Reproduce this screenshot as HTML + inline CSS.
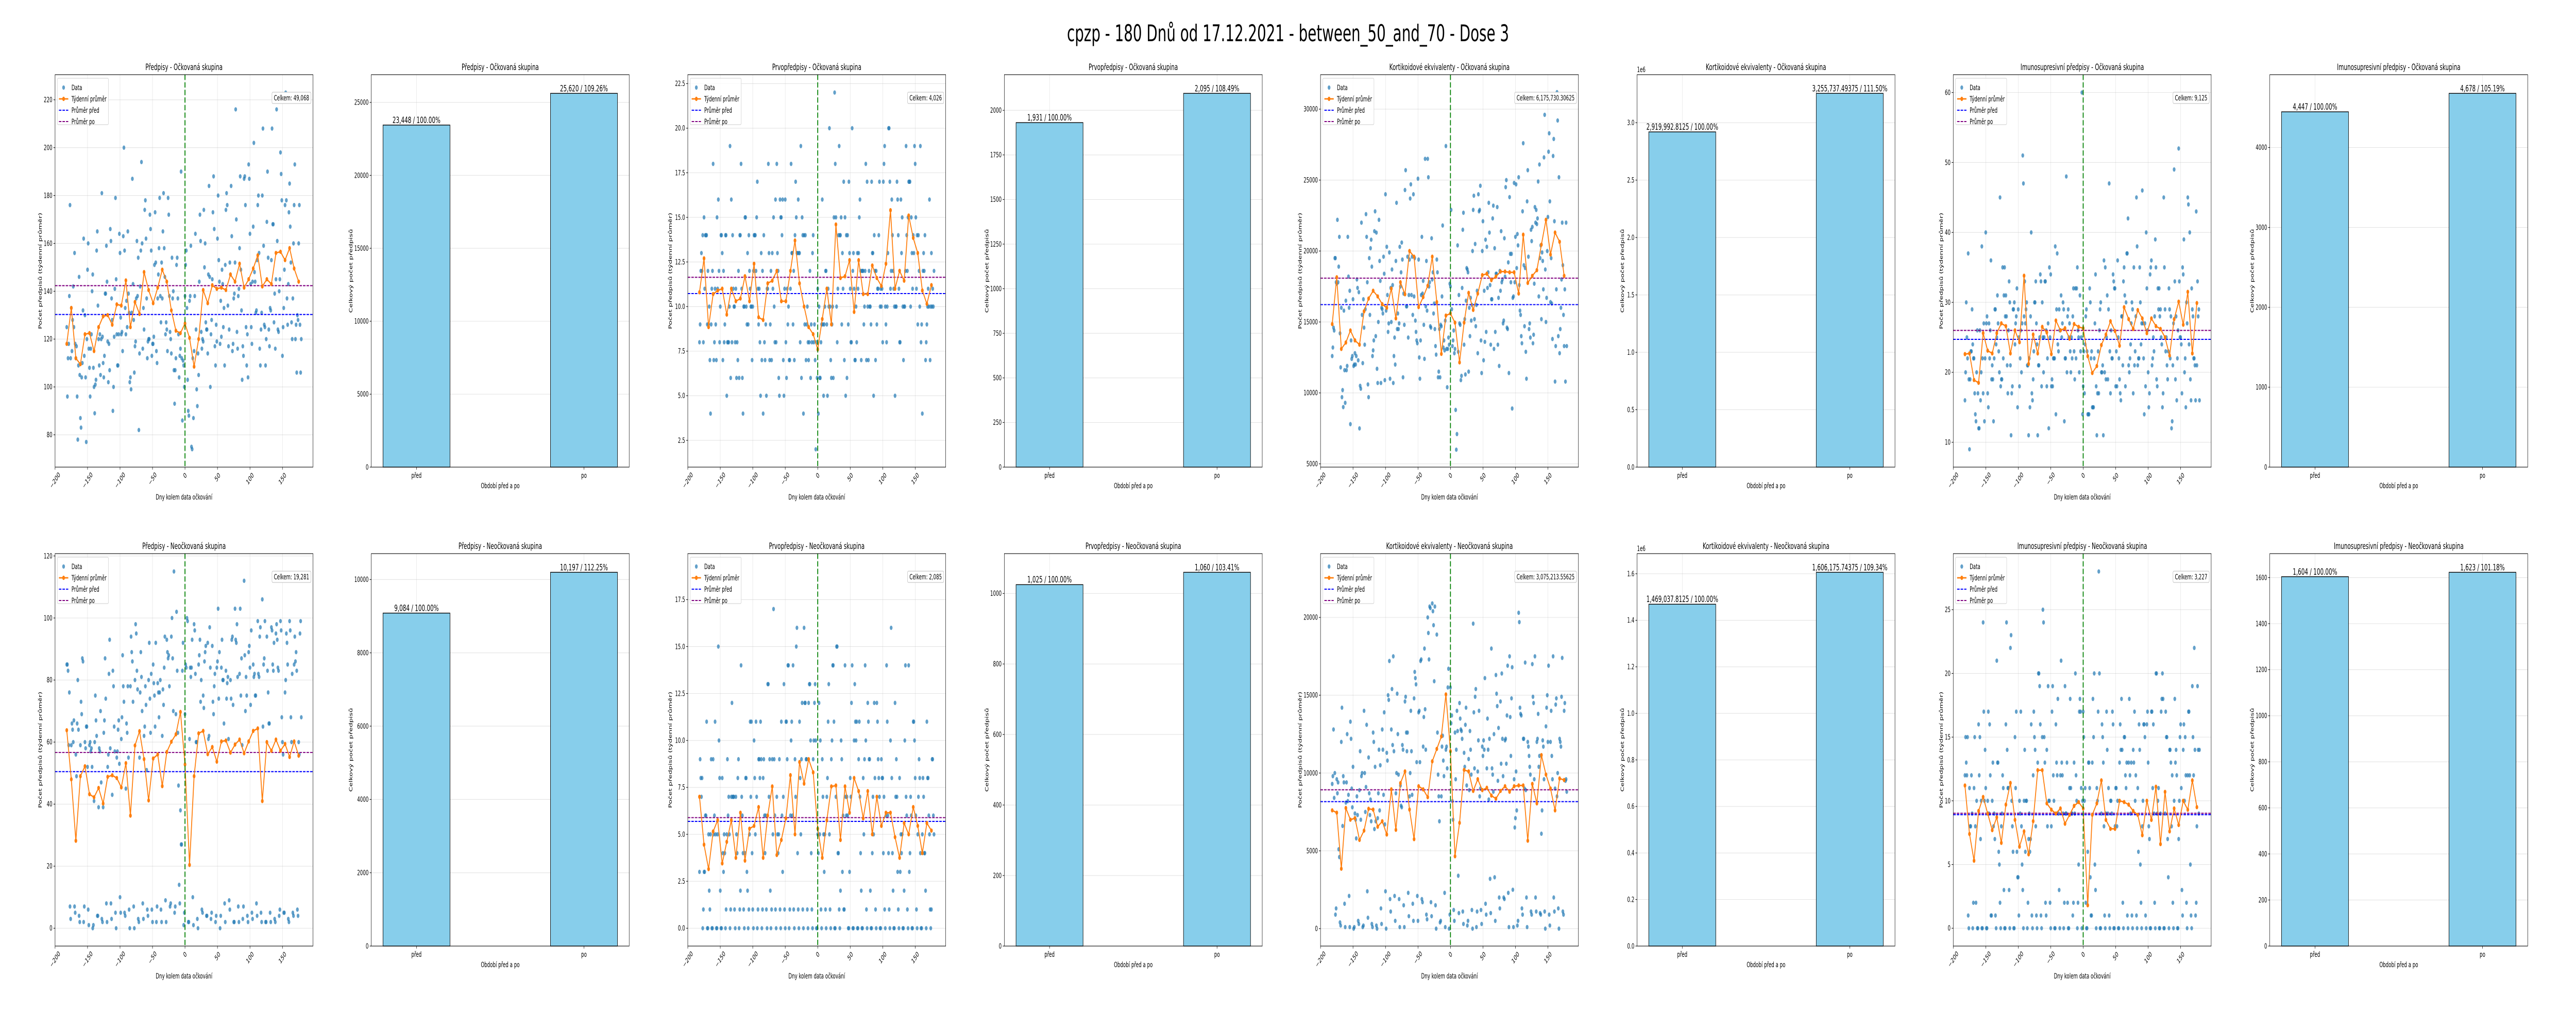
<!DOCTYPE html>
<html><head><meta charset="utf-8"><title>cpzp chart</title>
<style>
html,body{margin:0;padding:0;background:#fff;overflow:hidden;width:100vw;height:100vh;}
svg{display:block;width:100vw;height:100vh;font-family:"DejaVu Sans","Liberation Sans",sans-serif;}
</style></head>
<body>
<svg id="fig" viewBox="0 0 8000 2000" preserveAspectRatio="none" xmlns="http://www.w3.org/2000/svg">
<rect x="0" y="0" width="8000" height="2000" fill="#fff"/>
<text x="4000" y="80" text-anchor="middle" font-size="44.4" fill="#000">cpzp - 180 Dnů od 17.12.2021 - between_50_and_70 - Dose 3</text>
</svg>
<script>
// ---------- DATA ----------
const dayStart = -182;
const weekStep = 7;
const xTickValues = [-200,-150,-100,-50,0,50,100,150];
const xTickLabels = ["\u2212200","\u2212150","\u2212100","\u221250","0","50","100","150"];

// Row 1 – Očkovaná skupina
const r1p1Daily = [125,96,112,118,138,176,112,133,115,128,142,125,156,118,112,117,96,78,109,146,105,87,83,104,110,132,162,113,130,104,77,120,149,160,116,108,96,116,122,140,147,108,100,89,101,103,157,165,134,120,109,122,105,120,181,121,110,104,113,139,139,159,144,119,102,118,107,166,161,137,128,90,100,121,141,179,145,122,109,109,122,164,156,129,122,123,115,163,200,157,133,122,136,125,165,139,131,102,104,99,131,187,143,128,106,117,119,137,161,138,154,82,114,142,157,194,160,116,133,124,174,178,162,137,112,119,120,120,172,166,157,113,118,118,121,151,173,152,115,110,137,147,158,179,138,127,152,137,165,181,158,146,122,127,124,115,179,172,138,123,120,114,154,137,140,107,93,107,112,151,154,137,122,104,113,116,190,112,86,111,109,100,138,151,157,133,103,90,88,136,138,159,75,74,112,87,115,138,164,124,99,92,114,105,144,172,161,123,116,120,119,174,150,160,127,124,124,114,147,184,146,100,122,128,145,173,188,166,117,109,126,119,162,180,153,144,118,136,121,149,143,125,133,109,151,174,181,176,134,117,124,152,147,184,163,115,118,137,139,152,216,170,123,116,138,141,158,188,149,132,103,117,113,187,188,176,125,109,122,104,193,187,164,143,125,118,144,167,202,148,144,131,132,153,176,180,156,116,109,124,131,180,208,159,126,125,109,120,169,190,154,124,117,133,132,153,208,168,168,127,139,116,145,216,161,124,123,140,145,198,189,178,113,125,133,149,176,223,178,137,126,143,173,185,167,152,127,120,137,160,176,193,120,126,106,130,128,160,176,126,106,120];
const r1p1Weekly = [118,133,112,109.5,122,122.5,115,125,129.5,130,126,134.5,134,144.5,125,135.5,130.5,148,140.5,135,141.5,149,144,132,123.5,122.5,126.5,120.5,108.5,120,140.5,135,142.5,141,141.5,140.5,147,144,151.5,141.5,145,149.5,155,142,145,143,156,156.5,153,158,149.5,144];
const r1p1Means = [130.27,142.33];
const r1p1YTicks = [80,100,120,140,160,180,200,220];

const r1p3Daily = [8,9,12,13,12,14,8,15,11,14,14,14,9,12,9,10,7,4,9,11,12,18,7,8,11,9,7,15,11,16,12,8,10,14,14,13,7,12,8,9,14,14,5,8,8,8,10,19,6,16,8,14,11,10,10,8,11,6,8,7,12,6,14,14,18,11,6,4,10,10,15,15,10,9,13,9,14,12,11,10,10,7,10,12,14,14,14,12,15,17,11,9,11,8,5,13,7,12,4,14,8,7,9,5,11,11,18,13,7,9,12,7,13,11,15,10,8,16,8,18,13,12,6,5,16,15,15,14,16,7,5,11,16,8,6,11,9,10,7,7,11,18,13,13,9,12,7,14,17,15,13,13,16,13,13,8,19,6,15,14,4,14,9,14,7,9,10,8,7,8,12,6,9,8,13,14,8,9,7,2,8,6,11,4,10,6,6,8,9,16,9,5,9,10,12,12,9,5,11,10,20,10,7,6,9,10,6,15,22,18,15,10,8,11,14,19,14,14,15,9,13,11,17,7,15,5,14,6,14,9,17,13,11,8,8,20,12,13,11,7,7,10,8,13,11,13,15,16,12,7,12,12,12,9,10,12,18,7,17,10,7,12,10,10,9,17,13,13,5,14,12,7,12,9,11,11,14,17,10,11,10,11,8,17,18,19,10,9,8,10,13,20,20,17,11,12,16,14,12,11,10,5,10,10,17,16,14,11,8,8,16,13,15,10,7,10,10,12,19,14,12,15,17,17,17,10,15,13,11,14,13,19,18,15,11,14,9,14,12,10,19,8,9,4,12,13,12,14,7,8,9,10,11,10,16,7,10,13,10,11,10,12];
const r1p3Weekly = [10.8,12.7,8.85,10.7,10.9,11,9.55,11,10.3,10.45,11.7,10.3,12.4,9.4,9.25,11.3,11.45,12,10.3,10.3,12,13.7,11.3,10,8.85,8.45,7.6,9.3,11,9,14.6,11.6,11.7,12.6,9.7,12.6,10.7,10.7,12.3,11.6,11.15,12.4,15.4,11,12,11.45,15.1,13.85,13,10.9,10.15,11.2];
const r1p3Means = [10.73,11.64];
const r1p3YTicks = [2.5,5,7.5,10,12.5,15,17.5,20,22.5];

const r1p5Daily = [12600,13200,14600,14400,19500,19500,17800,17700,22200,17800,18900,21000,14200,11800,16000,9700,10200,9000,15800,11600,9300,16500,11600,11900,21000,18200,16000,17200,7800,13700,12400,12600,16600,11900,12000,12800,12000,12600,18000,17400,12300,17100,7500,10500,10300,22000,15500,12100,16600,14600,13400,15900,22600,21000,17800,10600,9700,19500,15500,20200,20800,18900,12600,13000,13700,21400,22800,14000,21300,11700,10700,15000,22200,19300,17900,10700,16000,15900,15600,19600,18400,10900,24000,15800,20300,16900,14300,14900,19900,11000,17400,15000,18700,17600,10700,12600,13900,12000,19300,23400,14500,15600,14500,14900,20300,17500,18500,20600,19400,11100,17000,14800,24300,25700,16100,16100,19600,13900,16900,19400,23700,24700,16900,19600,15500,24000,16800,19500,15100,14300,13700,13500,25100,19400,12500,11000,13700,16900,21000,17000,17900,14800,12400,26500,16100,19300,15800,26500,25200,17500,17800,14700,14600,20900,18000,18500,15600,16300,14500,13300,12700,19400,18500,11100,11500,14500,11100,14800,14700,16800,21800,13200,13700,13000,15100,27400,13100,10400,13100,13900,13400,17700,17500,22900,15900,13300,13700,14400,12800,13100,8800,6000,7100,20400,12900,16900,14900,14800,10900,11200,17400,21500,22700,13400,15200,11300,16500,18800,18700,18500,11500,16000,14000,16700,15100,16200,20000,22900,23900,15200,20500,14700,16200,17200,12800,24000,22800,22900,24600,13700,11400,20000,22100,12300,17200,13600,20800,14300,20300,17400,18500,23400,21300,17600,13400,16600,16600,22300,23200,13100,20200,14300,18400,18400,23100,13400,16700,11900,18600,17200,21400,17800,18000,14900,15100,20900,18200,24500,25000,14600,14500,19200,11400,23800,19800,17800,19800,8900,16700,16800,24800,17800,21000,24700,18800,21200,20400,25200,17600,15800,15500,14000,13500,22800,27600,19000,14700,18800,12900,11000,23500,25700,19600,14500,14900,13900,21500,20700,21700,13500,14100,17700,23100,22000,22900,21900,22300,24900,16800,26100,19500,20400,15200,19900,19300,17300,26600,29600,18700,15000,16700,20000,22400,27000,28300,23500,16400,19500,16300,13800,26700,27900,22100,10800,13300,17300,31200,29200,14000,25200,12800,14500,16000,18000,22000,19000,15500,13300,17300,10800,22000,13300];
const r1p5Weekly = [14850,18150,13100,13550,14400,13700,13400,15750,16650,17200,16800,16250,16000,17350,15250,17800,16950,20000,19600,16050,16750,17550,19600,16400,12750,15450,15600,14950,12150,14950,17050,15850,17000,18300,18400,17950,18200,18550,18550,18500,18500,17000,21150,17750,18250,18650,20450,22200,19750,21300,20650,18250];
const r1p5Means = [16222.18,18087.43];
const r1p5YTicks = [5000,10000,15000,20000,25000,30000];

const r1p7Daily = [16,20,30,25,22,37,19,9,19,23,23,29,24,22,22,17,14,13,20,26,17,12,12,26,16,20,38,22,17,27,13,22,40,27,28,17,15,27,22,26,36,19,21,19,13,22,29,29,24,25,31,27,23,20,45,18,19,19,35,22,31,35,28,31,28,21,17,26,33,30,21,11,17,18,29,29,30,24,27,28,32,15,29,25,18,22,26,20,27,51,47,28,33,27,29,30,21,21,11,22,15,28,40,17,16,19,23,30,30,33,27,24,11,21,21,25,34,33,18,30,25,20,25,33,33,26,18,22,27,12,35,25,34,18,19,18,22,22,22,38,14,29,37,24,23,29,26,26,31,25,27,30,29,13,22,22,48,20,28,29,25,27,23,20,25,22,28,32,23,19,32,22,32,35,26,25,20,31,23,25,60,14,18,23,17,24,28,29,23,14,14,14,32,30,22,23,15,15,15,22,27,34,18,11,17,23,17,26,29,30,20,20,21,11,36,20,35,19,25,31,19,29,47,23,17,26,22,22,34,33,32,32,18,23,18,36,25,22,19,17,16,28,28,21,33,35,31,18,30,37,37,42,21,20,22,24,27,30,29,17,35,21,23,28,45,38,21,22,22,35,30,24,27,46,27,22,14,27,18,40,32,26,20,15,17,34,35,36,21,22,25,23,28,39,35,19,18,32,29,32,28,29,25,24,15,17,45,35,29,23,25,21,19,23,32,29,22,28,12,13,21,27,49,33,19,28,16,22,26,52,33,25,25,24,17,35,34,39,20,22,15,30,27,45,44,24,40,19,16,32,29,28,22,22,21,16,43,21,33,28,29,16];
const r1p7Weekly = [22.6,22.7,18.9,18.5,25.6,23.1,22.7,25.6,27,26.6,22.7,26,24.3,33.8,21.2,25.4,22.7,26.5,25.7,22.6,27.4,26,26.3,24.8,26.9,26.5,26.3,22.3,19.9,20.9,23.9,25.4,27.3,25.9,23.8,29.3,27.6,26.2,28.9,27.7,25.6,27.7,26.6,26.2,25,22.4,27.6,30.1,26.8,31.5,22.7,29.9];
const r1p7Means = [24.71,25.99];
const r1p7YTicks = [10,20,30,40,50,60];

// Row 2 – Neočkovaná skupina
const r2p1Daily = [85,85,83,59,76,7,3,59,66,64,60,67,7,5,56,49,66,80,64,4,2,59,73,69,87,86,2,7,60,58,65,65,52,6,1,59,60,57,58,52,0,1,41,60,75,67,62,4,4,39,58,57,70,47,3,2,39,63,67,87,74,8,2,52,56,82,93,58,8,3,43,83,78,65,57,5,0,55,57,64,67,53,10,5,61,68,88,78,73,5,4,45,66,63,78,55,6,0,78,94,89,86,73,7,0,80,98,95,83,77,3,2,55,76,89,81,70,8,3,62,65,78,72,51,6,4,80,92,74,63,82,6,2,85,79,75,65,92,2,7,79,76,68,76,80,6,2,62,77,72,84,94,9,2,93,89,87,88,78,7,8,94,100,87,70,115,5,7,69,102,83,63,46,14,8,38,27,27,83,92,1,5,69,85,84,100,99,2,2,61,84,81,84,93,10,1,98,96,82,60,60,3,0,85,88,93,73,80,6,5,75,71,86,89,91,4,4,92,61,62,97,84,3,5,91,73,69,78,82,2,4,84,86,103,74,89,0,4,84,93,80,80,66,8,2,83,74,79,81,61,9,6,80,74,93,94,72,2,2,103,93,92,98,81,7,2,82,103,75,87,59,3,7,112,88,70,81,75,4,2,89,91,84,72,96,5,3,85,81,82,75,75,8,4,99,82,81,94,97,5,2,106,65,85,87,99,2,2,94,83,76,66,66,5,2,97,96,85,83,92,3,2,95,98,93,84,83,4,6,99,96,68,60,56,5,5,76,80,95,92,85,3,2,99,96,68,60,82,5,4,85,94,86,89,83,6,4,60,56,95,99,68];
const r2p1Weekly = [63.8,48,28.2,49,52.2,43.2,42.2,45.2,40.2,48.8,49.3,48.4,45.4,53.2,36.3,58.9,63.5,54.5,41.2,54.7,56,45.8,56.8,60.1,62.5,69.7,52.8,20.4,49,62.8,63.6,56.1,58.4,53.7,60.2,60.5,56.6,59.2,60.8,56.4,60.2,63.6,64.4,41,60,57.2,60.8,57.2,59.4,55.2,60.2,55.6];
const r2p1Means = [50.47,56.65];
const r2p1YTicks = [0,20,40,60,80,100,120];

const r2p3Daily = [3,9,8,7,8,0,1,3,3,6,6,11,0,0,5,2,1,5,9,0,0,9,5,6,11,5,0,0,5,15,10,8,2,0,0,8,4,3,5,4,0,1,5,9,6,7,5,0,1,7,12,7,7,7,1,0,7,5,4,8,9,0,1,2,14,7,6,4,1,0,4,8,8,3,2,0,1,5,11,7,11,4,1,0,10,8,5,11,7,0,1,9,9,8,11,9,0,1,8,9,6,4,6,1,0,13,13,7,9,2,0,1,9,5,17,9,6,1,0,7,5,4,5,9,1,0,11,6,3,7,13,1,0,11,11,9,14,14,0,1,6,10,11,6,14,1,0,9,7,15,16,4,1,0,11,8,5,9,12,1,0,16,12,12,9,9,1,0,12,13,13,10,4,1,0,9,10,12,13,10,0,0,5,4,12,5,10,1,0,9,7,5,3,5,1,0,7,8,11,13,5,1,0,9,10,14,14,11,0,0,7,15,15,4,4,1,0,2,10,9,3,6,1,1,14,7,6,7,6,0,0,3,8,7,12,14,0,0,10,13,11,10,11,0,0,9,11,7,4,2,0,0,8,5,9,14,10,1,0,12,11,9,9,2,0,0,4,7,5,12,8,1,0,12,11,9,8,7,0,0,9,8,8,4,7,1,0,6,14,11,6,4,1,0,10,16,8,4,2,0,0,12,7,9,7,3,1,0,8,3,5,4,5,0,0,2,10,14,7,6,1,0,14,3,4,7,6,0,0,11,11,10,8,6,1,0,5,7,9,8,4,0,0,5,8,7,4,4,2,0,11,8,8,6,5,1,0,1,9,9,6,5];
const r2p3Weekly = [7,4.45,3.15,5.15,5.75,3.45,4.6,5.75,3.75,6.15,3.6,5.3,5.45,6.45,3.75,6,7.55,3.9,4.7,5.85,8.15,5,8.85,7.7,9,8.3,5.3,3.75,5.75,7.55,7.6,4.7,7.55,6.15,8,7.3,5.85,7.3,5,7,5.45,6.15,6.15,4.85,3.75,5.6,5,6.45,5.45,4,5.6,5.2];
const r2p3Means = [5.69,5.89];
const r2p3YTicks = [0,2.5,5,7.5,10,12.5,15,17.5];

const r2p5Daily = [9300,9800,12800,8400,10000,900,1300,9600,8700,9400,5100,4600,400,200,12000,14200,6600,9800,9400,1600,100,8100,9400,12500,8200,8600,2100,100,13300,12200,9000,7800,10400,0,100,7400,7000,5800,8500,7300,500,300,8900,11400,7000,9800,10000,100,200,14000,10000,7500,9100,13100,2400,700,11000,8700,7300,8300,6900,300,100,12600,12000,6400,10400,6900,200,0,7100,8700,11500,7600,10500,1300,300,12800,11500,8600,13900,6700,2400,0,11300,10800,15000,14700,17200,1900,1100,12800,15400,11800,17500,11400,2100,500,8700,10000,15100,12500,9900,1900,100,9200,7900,7800,11800,11500,1500,100,14600,14900,12600,11400,12600,2300,800,8500,10000,14000,11400,8600,1600,500,14800,16500,16100,15700,10700,2100,500,13900,14000,10700,17200,17300,1900,1700,11700,13600,18000,14100,11500,900,600,20000,19000,17300,20700,20600,1700,800,20900,20400,19500,15900,20700,1500,0,18900,12600,9900,8500,6900,400,500,8500,11700,12400,10800,9800,2300,100,11500,11700,10300,15500,16700,0,900,15500,13200,13700,8200,7000,1200,500,12600,9600,11500,14000,12700,3400,1000,14500,13500,12800,12700,12200,1100,300,11300,10400,13100,14200,9200,200,500,10900,8900,12700,11500,9900,1200,0,19600,13900,10300,14900,15400,100,1100,10100,12100,14000,8500,9000,1200,300,11700,11100,12100,11500,16100,1600,900,10300,13500,11500,8300,12200,3200,1000,18000,10300,9900,8800,12500,3300,500,16300,15100,14300,9500,12900,2000,1300,14600,10600,16400,12200,9800,2000,1900,12100,12200,10600,13700,16900,2300,100,17500,13600,11100,14800,16800,2500,100,9600,6500,7100,10100,7600,200,500,20300,19700,14200,13800,13700,1300,900,12200,12200,9000,17100,8900,2000,100,12000,11700,11100,10400,9900,1100,900,17000,14900,14500,9600,17500,2000,1100,12000,12200,13800,10400,11100,1000,900,6100,7600,12100,11700,9600,1100,0,13000,14200,15000,12000,16900,900,200,12000,14000,11100,9600,17500,2000,1100,9000,14400,14800,8500,10000,1300,0,12200,12000,11700,14900,17400,1100,900,14000,14500,9500,9600,8800];
const r2p5Weekly = [7600,7450,3850,7750,7000,7100,5700,6300,7700,7650,6550,6900,6050,8950,6350,9350,10100,7650,5750,9150,8950,8450,10750,11550,12350,15050,11400,4650,6800,10200,10100,8850,9600,8900,9050,8550,8350,8850,9150,8800,9150,9200,9200,5650,9300,8050,11150,9900,9000,7600,9650,9550];
const r2p5Means = [8161.32,8923.20];
const r2p5YTicks = [0,5000,10000,15000,20000];

const r2p7Daily = [12,15,13,12,15,1,0,11,8,8,12,9,0,2,11,15,8,2,10,0,0,16,12,15,7,10,0,0,24,17,10,14,11,0,0,10,17,9,16,12,1,1,10,13,8,9,7,1,0,21,13,13,6,5,2,0,8,9,12,11,3,0,0,16,24,14,11,11,3,0,22,23,10,8,6,0,0,15,11,17,6,4,4,1,10,9,17,8,5,3,0,10,14,6,10,10,0,2,7,9,6,7,16,1,0,12,17,15,14,8,1,0,13,20,20,19,16,1,0,15,25,24,15,13,2,1,14,8,19,10,10,2,0,8,17,19,12,10,0,0,16,13,12,18,9,3,0,12,21,13,12,9,0,2,19,9,9,13,2,0,0,11,18,11,9,9,1,2,13,9,20,12,10,0,2,5,17,18,17,11,0,10,17,15,10,11,2,0,0,6,13,13,11,4,1,1,13,18,15,20,5,3,0,11,10,17,28,20,0,0,9,16,15,13,8,1,0,9,17,14,9,11,1,0,10,10,9,17,16,0,0,8,11,11,8,10,0,0,13,16,14,18,14,2,0,15,15,12,11,13,1,0,13,18,12,9,13,1,0,14,13,17,10,12,1,0,11,6,16,14,5,2,0,8,10,16,16,15,1,0,16,17,13,8,7,0,0,17,17,11,16,9,2,0,20,20,9,10,11,0,0,9,17,18,20,18,0,0,9,17,15,15,7,4,0,14,14,13,8,12,2,0,10,18,13,14,12,0,0,7,10,15,16,11,3,1,14,16,10,15,12,2,0,12,17,17,12,5,1,0,19,15,12,22,14,1,2,8,19,14,9,14];
const r2p7Weekly = [11.2,7.4,5.3,9.2,10.3,9,7.7,8.7,6.7,9.7,11.4,8.5,6.4,7.6,5.8,8.4,12.4,12.4,9.8,9.3,9,9.4,8.2,8.9,9.6,9.9,9.4,1.8,8.9,9.8,11.6,8.5,7.8,7.8,10,9.9,9.7,9.2,8.9,7.3,10,8.5,11.1,6.6,10.7,7.6,9.4,8.1,10,9.3,11.6,9.5];
const r2p7Means = [8.91,9.02];
const r2p7YTicks = [0,5,10,15,20,25];

// Bar totals (před, po)
const barCategories = ["před","po"];
const r1b1Values = [23448,25620];
const r1b2Values = [1931,2095];
const r1b3Values = [2919992.8125,3255737.49375];
const r1b4Values = [4447,4678];
const r2b1Values = [9084,10197];
const r2b2Values = [1025,1060];
const r2b3Values = [1469037.8125,1606175.74375];
const r2b4Values = [1604,1623];
const r1b1Ticks = [0,5000,10000,15000,20000,25000];
const r1b2Ticks = [0,250,500,750,1000,1250,1500,1750,2000];
const r1b3Ticks = [0,500000,1000000,1500000,2000000,2500000,3000000];
const r1b4Ticks = [0,1000,2000,3000,4000];
const r2b1Ticks = [0,2000,4000,6000,8000,10000];
const r2b2Ticks = [0,200,400,600,800,1000];
const r2b3Ticks = [0,200000,400000,600000,800000,1000000,1200000,1400000,1600000];
const r2b4Ticks = [0,200,400,600,800,1000,1200,1400,1600];

// ---------- RENDER ----------
const NS = 'http://www.w3.org/2000/svg';
const svg = document.getElementById('fig');
const AW = 801, AH = 762;
const rowTops = [145, 1075];
const scatterLefts = [171, 2136, 4101, 6066];
const barLefts = [1153, 3119, 5084, 7049];
const FONT = 13.9;

function mk(tag, attrs, parent) {
  const e = document.createElementNS(NS, tag);
  for (const k in attrs) e.setAttribute(k, attrs[k]);
  (parent || svg).appendChild(e);
  return e;
}
function txt(parent, x, y, s, size, anchor, extra) {
  const t = mk('text', Object.assign({x: x, y: y, 'font-size': size, 'text-anchor': anchor || 'middle', fill: '#000'}, extra || {}), parent);
  t.textContent = s;
  return t;
}
function fmt(v) { return v.toLocaleString('en-US', {maximumFractionDigits: 5}); }
function estW(s, size) { return s.length * 0.62 * size; }

function drawScatter(cfg) {
  const g = mk('g', {}, svg);
  
  
  const L = cfg.left, T = cfg.top, R = L + AW, B = T + AH;
  const xlim = [-200, 197];
  const X = v => L + (v - xlim[0]) / (xlim[1] - xlim[0]) * AW;
  const Y = v => B - (v - cfg.ylim[0]) / (cfg.ylim[1] - cfg.ylim[0]) * AH;

  xTickValues.forEach(v => {
    const ln = mk('line', {x1: X(v), x2: X(v), y1: T, y2: B, stroke: '#b0b0b0', 'stroke-opacity': 0.35, 'stroke-width': 1.1}, g);
    
    
  });
  cfg.yticks.forEach(v => {
    const ln = mk('line', {x1: L, x2: R, y1: Y(v), y2: Y(v), stroke: '#b0b0b0', 'stroke-opacity': 0.35, 'stroke-width': 1.1}, g);
    
    
  });

  const pts = mk('g', {}, g);
  
  
  cfg.daily.forEach((v, i) => {
    const c = mk('circle', {cx: X(dayStart + i), cy: Y(v), r: 4.3, fill: '#1f77b4', 'fill-opacity': 0.7}, pts);
    
    
  });

  const mb = mk('line', {x1: L, x2: R, y1: Y(cfg.means[0]), y2: Y(cfg.means[0]), stroke: '#0000ff', 'stroke-width': 2.1, 'stroke-dasharray': '7.7,3.3'}, g);
  
  
  const ma = mk('line', {x1: L, x2: R, y1: Y(cfg.means[1]), y2: Y(cfg.means[1]), stroke: '#800080', 'stroke-width': 2.1, 'stroke-dasharray': '7.7,3.3'}, g);
  
  

  const wk = cfg.weekly.map((v, i) => X(dayStart + i * weekStep).toFixed(1) + ',' + Y(v).toFixed(1)).join(' ');
  const pl = mk('polyline', {points: wk, fill: 'none', stroke: '#ff7f0e', 'stroke-width': 2.8, 'stroke-linejoin': 'round'}, g);
  
  
  cfg.weekly.forEach((v, i) => {
    const c = mk('circle', {cx: X(dayStart + i * weekStep), cy: Y(v), r: 4.2, fill: '#ff7f0e'}, g);
    
    
  });

  const vl = mk('line', {x1: X(0), x2: X(0), y1: T, y2: B, stroke: '#008000', 'stroke-width': 2.8, 'stroke-dasharray': '10.3,4.4'}, g);
  
  

  const fr = mk('rect', {x: L, y: T, width: AW, height: AH, fill: 'none', stroke: '#000', 'stroke-width': 1.1}, g);
  
  

  xTickValues.forEach((v, i) => {
    mk('line', {x1: X(v), x2: X(v), y1: B, y2: B + 4.9, stroke: '#000', 'stroke-width': 1.1}, g);
    const s = xTickLabels[i];
    const w = estW(s, FONT);
    const cy = B + 8.4 + (w + 14) * 0.354;
    const t = txt(g, X(v), cy, s, FONT, 'middle', {'dominant-baseline': 'central', transform: 'rotate(-45 ' + X(v) + ' ' + cy + ')'});
    
    
  });
  let maxW = 0;
  cfg.yticks.forEach((v, i) => {
    mk('line', {x1: L - 4.9, x2: L, y1: Y(v), y2: Y(v), stroke: '#000', 'stroke-width': 1.1}, g);
    const s = cfg.ytickLabels[i];
    maxW = Math.max(maxW, estW(s, FONT));
    const t = txt(g, L - 8.4, Y(v), s, FONT, 'end', {'dominant-baseline': 'central'});
    
    
  });

  const tt = txt(g, L + AW / 2, T - 9, cfg.title, 16.7);
  
  
  const xl = txt(g, L + AW / 2, B + 63, 'Dny kolem data očkování', FONT);
  
  
  const yx = L - maxW - 20, yy = T + AH / 2;
  const yl = txt(g, yx, yy, 'Počet předpisů (týdenní průměr)', FONT, 'middle', {'dominant-baseline': 'central', transform: 'rotate(-90 ' + yx + ' ' + yy + ')'});
  
  

  const lg = mk('g', {}, g);
  
  
  const bx = L + 7, by = T + 7;
  mk('rect', {x: bx, y: by, width: 159, height: 90, rx: 3, fill: '#fff', 'fill-opacity': 0.8, stroke: '#cccccc', 'stroke-width': 1.1}, lg);
  const rows = [by + 18, by + 40, by + 62, by + 84];
  const e1 = mk('circle', {cx: bx + 19.5, cy: rows[0], r: 4.3, fill: '#1f77b4', 'fill-opacity': 0.7}, lg);
  
  
  mk('line', {x1: bx + 5, x2: bx + 34, y1: rows[1], y2: rows[1], stroke: '#ff7f0e', 'stroke-width': 2.8}, lg);
  mk('circle', {cx: bx + 19.5, cy: rows[1], r: 4.2, fill: '#ff7f0e'}, lg);
  mk('line', {x1: bx + 5, x2: bx + 34, y1: rows[2], y2: rows[2], stroke: '#0000ff', 'stroke-width': 2.1, 'stroke-dasharray': '7.7,3.3'}, lg);
  mk('line', {x1: bx + 5, x2: bx + 34, y1: rows[3], y2: rows[3], stroke: '#800080', 'stroke-width': 2.1, 'stroke-dasharray': '7.7,3.3'}, lg);
  ['Data', 'Týdenní průměr', 'Průměr před', 'Průměr po'].forEach((s, i) => {
    const t = txt(lg, bx + 44, rows[i], s, FONT, 'start', {'dominant-baseline': 'central'});
    
    
  });

  const tg = mk('g', {}, g);
  
  
  const box = mk('rect', {x: 0, y: T + 34, width: 10, height: 22, rx: 3, fill: '#fff', stroke: '#bbbbbb', 'stroke-width': 1.1}, tg);
  const ct = txt(tg, R - 12, T + 45, 'Celkem: ' + fmt(cfg.total), FONT, 'end', {'dominant-baseline': 'central'});
  let w = estW(ct.textContent, FONT);
  try { const m = ct.getComputedTextLength(); if (m > 0) w = m; } catch (e) {}
  box.setAttribute('x', R - 12 - w - 6);
  box.setAttribute('width', w + 12);
}

function drawBar(cfg) {
  const g = mk('g', {}, svg);
  
  
  const L = cfg.left, T = cfg.top, R = L + AW, B = T + AH;
  const ymax = Math.max.apply(null, cfg.values) * 1.05;
  const xlim = [-0.27, 1.27];
  const X = v => L + (v - xlim[0]) / (xlim[1] - xlim[0]) * AW;
  const Y = v => B - v / ymax * AH;
  const scale = cfg.sci ? 1e6 : 1;

  [0, 1].forEach(v => {
    const ln = mk('line', {x1: X(v), x2: X(v), y1: T, y2: B, stroke: '#b0b0b0', 'stroke-opacity': 0.35, 'stroke-width': 1.1}, g);
    
    
  });
  cfg.ticks.forEach(v => {
    const ln = mk('line', {x1: L, x2: R, y1: Y(v), y2: Y(v), stroke: '#b0b0b0', 'stroke-opacity': 0.35, 'stroke-width': 1.1}, g);
    
    
  });

  cfg.values.forEach((v, i) => {
    const r = mk('rect', {x: X(i - 0.2), y: Y(v), width: X(i + 0.2) - X(i - 0.2), height: B - Y(v), fill: '#87ceeb', stroke: '#000', 'stroke-width': 1.4}, g);
    
    
    const lab = fmt(v) + ' / ' + (v / cfg.values[0] * 100).toFixed(2) + '%';
    const t = txt(g, X(i), Y(v) - 4, lab, 16.7);
    
    
  });

  const fr = mk('rect', {x: L, y: T, width: AW, height: AH, fill: 'none', stroke: '#000', 'stroke-width': 1.1}, g);
  
  

  barCategories.forEach((s, i) => {
    mk('line', {x1: X(i), x2: X(i), y1: B, y2: B + 4.9, stroke: '#000', 'stroke-width': 1.1}, g);
    const t = txt(g, X(i), B + 21, s, FONT);
    
    
  });
  let maxW = 0;
  cfg.ticks.forEach(v => {
    mk('line', {x1: L - 4.9, x2: L, y1: Y(v), y2: Y(v), stroke: '#000', 'stroke-width': 1.1}, g);
    const s = cfg.sci ? (v / scale).toFixed(1) : String(v);
    maxW = Math.max(maxW, estW(s, FONT));
    const t = txt(g, L - 8.4, Y(v), s, FONT, 'end', {'dominant-baseline': 'central'});
    
    
  });
  if (cfg.sci) {
    const o = txt(g, L, T - 5, '1e6', FONT, 'start');
    
    
  }
  const tt = txt(g, L + AW / 2, T - 9, cfg.title, 16.7);
  
  
  const xl = txt(g, L + AW / 2, B + 41, 'Období před a po', FONT);
  
  
  const yx = L - maxW - 20, yy = T + AH / 2;
  const yl = txt(g, yx, yy, 'Celkový počet předpisů', FONT, 'middle', {'dominant-baseline': 'central', transform: 'rotate(-90 ' + yx + ' ' + yy + ')'});
  
  
}

function tickLabels(arr, dec) { return arr.map(v => dec ? v.toFixed(dec) : String(v)); }
function sum(a) { return a[0] + a[1]; }

drawScatter({name:'predpisy-ockovana-scatter', left:scatterLefts[0], top:rowTops[0], title:'Předpisy - Očkovaná skupina', daily:r1p1Daily, weekly:r1p1Weekly, means:r1p1Means, ylim:[66.5,230.5], yticks:r1p1YTicks, ytickLabels:tickLabels(r1p1YTicks), total:sum(r1b1Values)});
drawScatter({name:'prvopredpisy-ockovana-scatter', left:scatterLefts[1], top:rowTops[0], title:'Prvopředpisy - Očkovaná skupina', daily:r1p3Daily, weekly:r1p3Weekly, means:r1p3Means, ylim:[1,23], yticks:r1p3YTicks, ytickLabels:tickLabels(r1p3YTicks,1), total:sum(r1b2Values)});
drawScatter({name:'kortikoidove-ockovana-scatter', left:scatterLefts[2], top:rowTops[0], title:'Kortikoidové ekvivalenty - Očkovaná skupina', daily:r1p5Daily, weekly:r1p5Weekly, means:r1p5Means, ylim:[4770,32430], yticks:r1p5YTicks, ytickLabels:tickLabels(r1p5YTicks), total:sum(r1b3Values)});
drawScatter({name:'imunosupresivni-ockovana-scatter', left:scatterLefts[3], top:rowTops[0], title:'Imunosupresivní předpisy - Očkovaná skupina', daily:r1p7Daily, weekly:r1p7Weekly, means:r1p7Means, ylim:[6.45,62.55], yticks:r1p7YTicks, ytickLabels:tickLabels(r1p7YTicks), total:sum(r1b4Values)});
drawScatter({name:'predpisy-neockovana-scatter', left:scatterLefts[0], top:rowTops[1], title:'Předpisy - Neočkovaná skupina', daily:r2p1Daily, weekly:r2p1Weekly, means:r2p1Means, ylim:[-5.75,120.75], yticks:r2p1YTicks, ytickLabels:tickLabels(r2p1YTicks), total:sum(r2b1Values)});
drawScatter({name:'prvopredpisy-neockovana-scatter', left:scatterLefts[1], top:rowTops[1], title:'Prvopředpisy - Neočkovaná skupina', daily:r2p3Daily, weekly:r2p3Weekly, means:r2p3Means, ylim:[-0.95,19.95], yticks:r2p3YTicks, ytickLabels:tickLabels(r2p3YTicks,1), total:sum(r2b2Values)});
drawScatter({name:'kortikoidove-neockovana-scatter', left:scatterLefts[2], top:rowTops[1], title:'Kortikoidové ekvivalenty - Neočkovaná skupina', daily:r2p5Daily, weekly:r2p5Weekly, means:r2p5Means, ylim:[-1120,24100], yticks:r2p5YTicks, ytickLabels:tickLabels(r2p5YTicks), total:sum(r2b3Values)});
drawScatter({name:'imunosupresivni-neockovana-scatter', left:scatterLefts[3], top:rowTops[1], title:'Imunosupresivní předpisy - Neočkovaná skupina', daily:r2p7Daily, weekly:r2p7Weekly, means:r2p7Means, ylim:[-1.4,29.4], yticks:r2p7YTicks, ytickLabels:tickLabels(r2p7YTicks), total:sum(r2b4Values)});

drawBar({name:'predpisy-ockovana-bars', left:barLefts[0], top:rowTops[0], title:'Předpisy - Očkovaná skupina', values:r1b1Values, ticks:r1b1Ticks});
drawBar({name:'prvopredpisy-ockovana-bars', left:barLefts[1], top:rowTops[0], title:'Prvopředpisy - Očkovaná skupina', values:r1b2Values, ticks:r1b2Ticks});
drawBar({name:'kortikoidove-ockovana-bars', left:barLefts[2], top:rowTops[0], title:'Kortikoidové ekvivalenty - Očkovaná skupina', values:r1b3Values, ticks:r1b3Ticks, sci:true});
drawBar({name:'imunosupresivni-ockovana-bars', left:barLefts[3], top:rowTops[0], title:'Imunosupresivní předpisy - Očkovaná skupina', values:r1b4Values, ticks:r1b4Ticks});
drawBar({name:'predpisy-neockovana-bars', left:barLefts[0], top:rowTops[1], title:'Předpisy - Neočkovaná skupina', values:r2b1Values, ticks:r2b1Ticks});
drawBar({name:'prvopredpisy-neockovana-bars', left:barLefts[1], top:rowTops[1], title:'Prvopředpisy - Neočkovaná skupina', values:r2b2Values, ticks:r2b2Ticks});
drawBar({name:'kortikoidove-neockovana-bars', left:barLefts[2], top:rowTops[1], title:'Kortikoidové ekvivalenty - Neočkovaná skupina', values:r2b3Values, ticks:r2b3Ticks, sci:true});
drawBar({name:'imunosupresivni-neockovana-bars', left:barLefts[3], top:rowTops[1], title:'Imunosupresivní předpisy - Neočkovaná skupina', values:r2b4Values, ticks:r2b4Ticks});
</script>
</body></html>
